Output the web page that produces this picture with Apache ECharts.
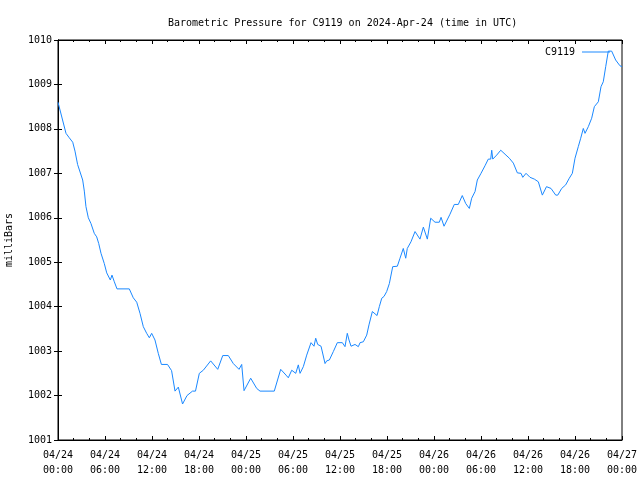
<!DOCTYPE html>
<html>
<head>
<meta charset="utf-8">
<script src="https://cdn.jsdelivr.net/npm/echarts@6/dist/echarts.min.js"></script>
<style>html,body{margin:0;padding:0;background:#fff}#c{width:640px;height:480px}</style>
</head>
<body>
<div id="c"></div>
<script>
// hours since 2024-04-24 00:00 UTC
var hours = [0.0,1.02,1.44,1.88,2.17,2.5,3.15,3.36,3.57,3.87,4.21,4.63,4.94,5.2,5.49,5.91,6.22,6.68,6.89,7.19,7.53,9.1,9.61,10.05,10.47,10.89,11.32,11.66,11.96,12.38,12.8,13.2,13.98,14.5,14.94,15.36,15.9,16.47,17.17,17.55,18.04,18.55,18.77,19.49,20.39,21.03,21.74,22.38,23.11,23.45,23.75,24.6,25.37,25.79,27.61,28.43,29.11,29.4,29.84,30.35,30.68,30.9,31.32,31.75,32.3,32.68,32.9,33.15,33.58,34.09,34.3,34.64,35.15,35.66,36.3,36.64,36.93,37.15,37.41,37.92,38.34,38.56,38.98,39.41,39.7,40.13,40.73,41.02,41.33,41.62,41.96,42.3,42.73,43.32,43.66,44.08,44.39,44.59,45.06,45.58,46.21,46.64,47.15,47.58,48.13,48.68,48.9,49.28,50.04,50.59,51.1,51.61,52.05,52.51,52.81,53.24,53.53,54.0,54.51,54.93,55.24,55.37,55.5,56.0,56.52,57.07,57.62,58.13,58.64,59.11,59.33,59.75,60.26,60.81,61.32,61.83,62.36,62.94,63.54,63.8,64.3,64.81,65.27,65.66,66.0,66.42,66.73,67.06,67.28,67.7,68.13,68.47,68.98,69.32,69.61,69.92,70.25,70.68,71.19,71.74,72.0];
var pressure = [1008.6,1007.9,1007.8,1007.7,1007.5,1007.2,1006.85,1006.6,1006.25,1006.0,1005.87,1005.65,1005.57,1005.42,1005.2,1004.97,1004.76,1004.6,1004.71,1004.56,1004.4,1004.4,1004.2,1004.1,1003.85,1003.55,1003.4,1003.3,1003.4,1003.25,1002.95,1002.7,1002.7,1002.56,1002.1,1002.19,1001.81,1002.0,1002.1,1002.1,1002.5,1002.57,1002.59,1002.78,1002.59,1002.9,1002.9,1002.72,1002.59,1002.7,1002.11,1002.39,1002.16,1002.1,1002.1,1002.59,1002.46,1002.4,1002.57,1002.5,1002.69,1002.5,1002.65,1002.91,1003.19,1003.11,1003.29,1003.15,1003.11,1002.72,1002.78,1002.8,1002.99,1003.19,1003.19,1003.1,1003.4,1003.25,1003.11,1003.15,1003.1,1003.19,1003.21,1003.36,1003.59,1003.89,1003.8,1004.0,1004.19,1004.23,1004.34,1004.52,1004.9,1004.91,1005.09,1005.31,1005.09,1005.31,1005.46,1005.69,1005.52,1005.79,1005.52,1005.99,1005.9,1005.9,1006.01,1005.81,1006.08,1006.3,1006.3,1006.5,1006.32,1006.21,1006.44,1006.59,1006.85,1007.0,1007.17,1007.32,1007.32,1007.52,1007.32,1007.41,1007.52,1007.43,1007.34,1007.23,1007.01,1007.0,1006.91,1007.0,1006.91,1006.87,1006.81,1006.51,1006.7,1006.66,1006.51,1006.51,1006.66,1006.74,1006.89,1007.0,1007.34,1007.6,1007.79,1008.01,1007.9,1008.05,1008.24,1008.5,1008.61,1008.95,1009.06,1009.4,1009.75,1009.75,1009.55,1009.42,1009.4];
var seriesName = 'C9119';
var titleText = 'Barometric Pressure for C9119 on 2024-Apr-24 (time in UTC)';
var yName = 'milliBars';
var startDay = 24;

var FONT = '"DejaVu Sans Mono", "Liberation Mono", monospace';
function pad(n){ return (n < 10 ? '0' : '') + n; }
function xLabel(h){
  var d = startDay + Math.floor(h / 24);
  var hh = Math.round(h % 24);
  return '04/' + pad(d) + '\n' + pad(hh) + ':00';
}
function yLabel(v){ return String(Math.round(v)); }
var data = hours.map(function(h, i){ return [h, pressure[i]]; });

var axisCommon = {
  axisLine: { show: true, lineStyle: { color: '#000', width: 1 } },
  splitLine: { show: false }
};
var chart = echarts.init(document.getElementById('c'), null, { renderer: 'canvas' });
chart.setOption({
  animation: false,
  backgroundColor: '#fff',
  textStyle: { fontFamily: FONT },
  title: {
    text: titleText,
    left: 163, top: 13,
    textStyle: { fontFamily: FONT, fontSize: 10, fontWeight: 'normal', color: '#000' }
  },
  legend: {
    data: [seriesName],
    right: 25, top: 42,
    align: 'right',
    icon: 'rect',
    itemWidth: 28, itemHeight: 1,
    itemGap: 6,
    textStyle: { fontFamily: FONT, fontSize: 10, color: '#000', padding: [0, 2, 0, 0] }
  },
  grid: { left: 58, right: 18, top: 40, bottom: 40, show: true, borderColor: '#000', borderWidth: 1, containLabel: false, outerBoundsMode: 'none' },
  xAxis: [
    Object.assign({}, axisCommon, {
      type: 'value', min: 0, max: 72, interval: 6, position: 'bottom',
      axisTick: { show: true, inside: true, length: 4, lineStyle: { color: '#000' } },
      minorTick: { show: true, splitNumber: 3, length: 2, lineStyle: { color: '#000' } },
      axisLabel: { formatter: xLabel, fontFamily: FONT, fontSize: 10, color: '#000', lineHeight: 15, margin: 8 }
    }),
    Object.assign({}, axisCommon, {
      type: 'value', min: 0, max: 72, interval: 6, position: 'top',
      axisTick: { show: true, inside: true, length: 4, lineStyle: { color: '#000' } },
      minorTick: { show: true, splitNumber: 3, length: 2, lineStyle: { color: '#000' } },
      axisLabel: { show: false }
    })
  ],
  yAxis: [
    Object.assign({}, axisCommon, {
      type: 'value', min: 1001, max: 1010, interval: 1, position: 'left',
      name: yName, nameLocation: 'middle', nameRotate: 90, nameGap: 44,
      nameTextStyle: { fontFamily: FONT, fontSize: 10, color: '#000' },
      axisTick: { show: true, inside: true, length: 4, lineStyle: { color: '#000' } },
      axisLabel: { formatter: yLabel, fontFamily: FONT, fontSize: 10, color: '#000', margin: 6 }
    }),
    Object.assign({}, axisCommon, {
      type: 'value', min: 1001, max: 1010, interval: 1, position: 'right',
      axisTick: { show: true, inside: true, length: 4, lineStyle: { color: '#000' } },
      axisLabel: { show: false }
    })
  ],
  series: [{
    name: seriesName, type: 'line', data: data,
    xAxisIndex: 0, yAxisIndex: 0,
    symbol: 'none', showSymbol: false,
    lineStyle: { color: '#1a88ff', width: 1 },
    itemStyle: { color: '#1a88ff' }
  }]
});
</script>
</body>
</html>
